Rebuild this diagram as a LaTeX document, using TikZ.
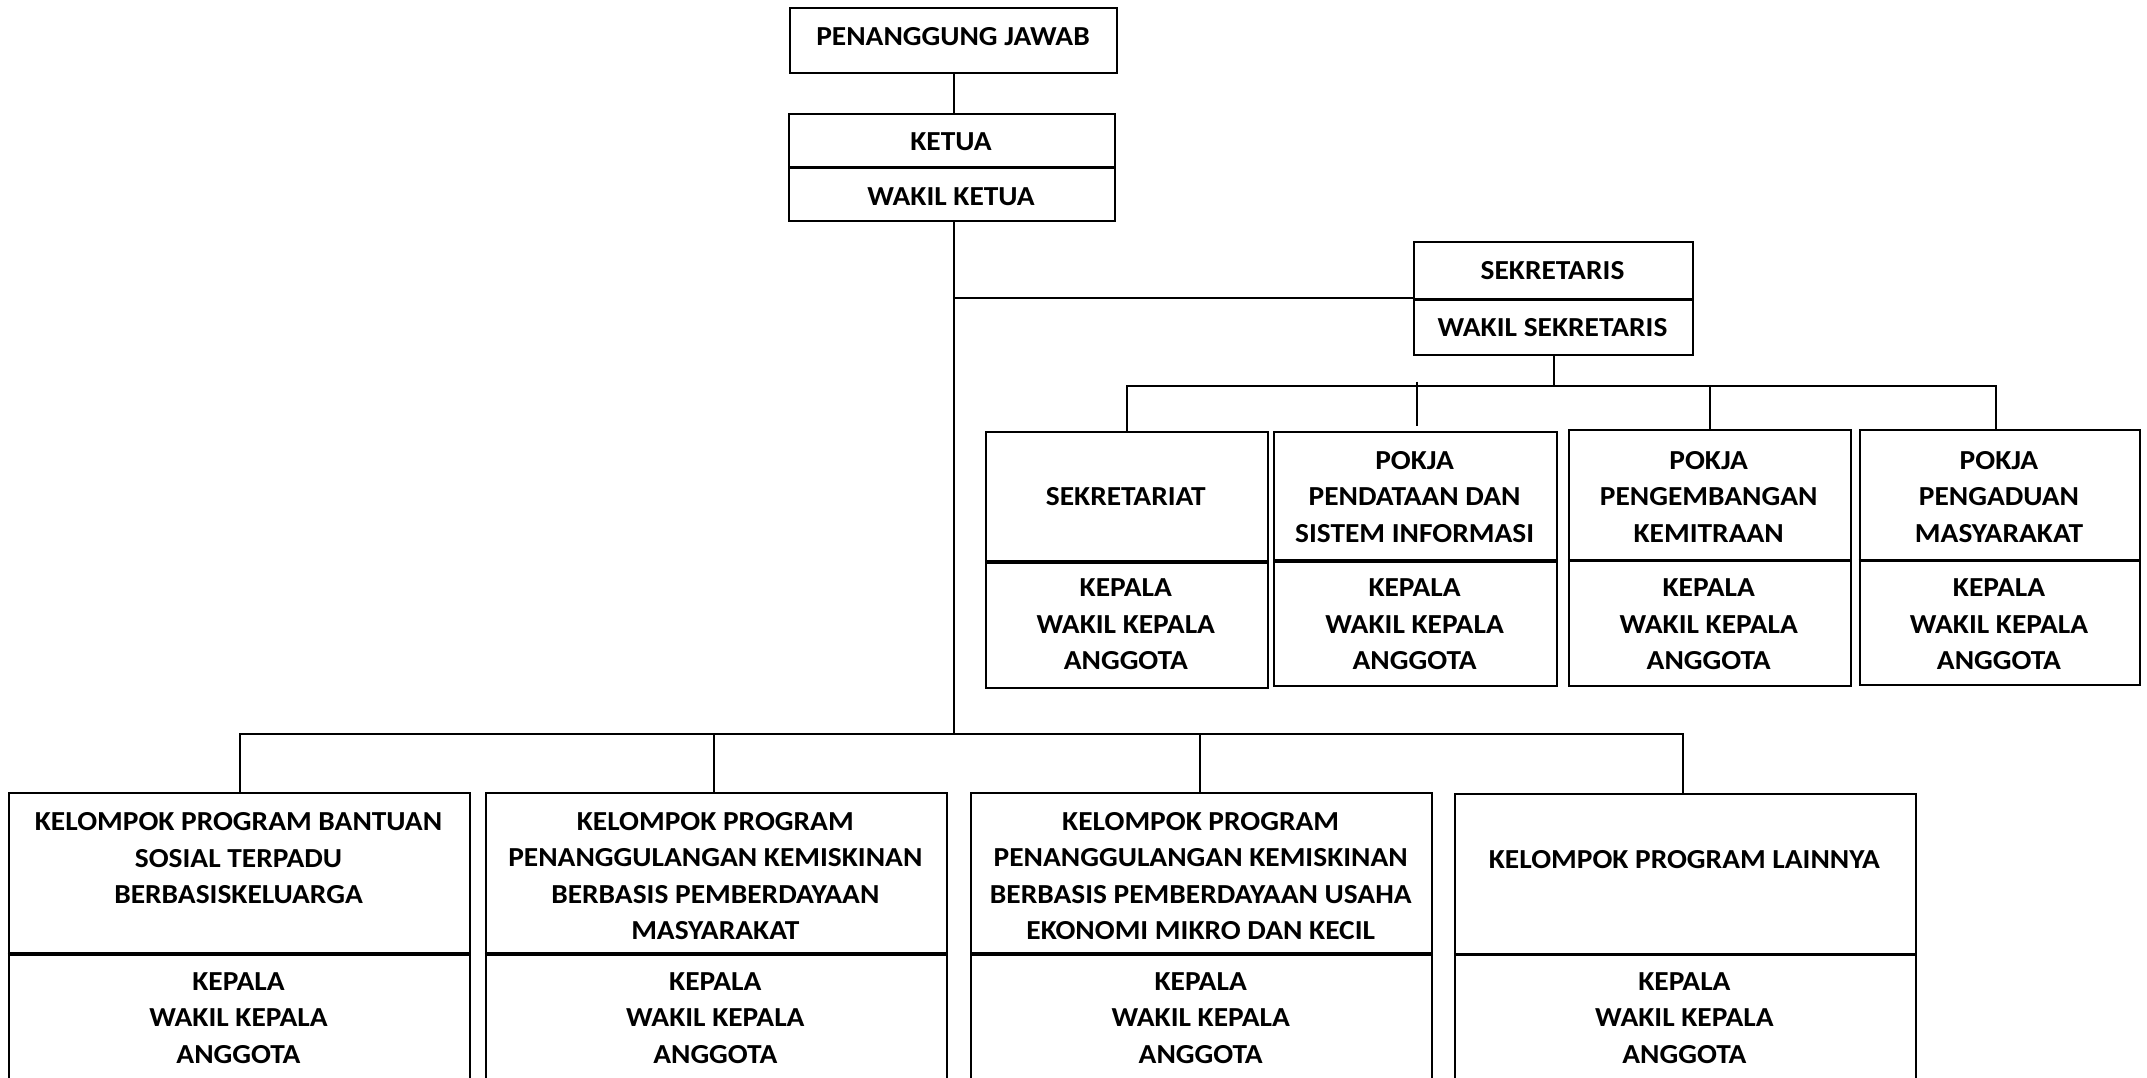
\documentclass[tikz,border=0pt]{standalone}
\usepackage{fontspec}
\setmainfont{Carlito}[FakeStretch=1.07]
\begin{document}
\begin{tikzpicture}[x=1pt,y=-1pt,
  part/.style={draw, line width=2pt, inner sep=0pt, anchor=north west},
  divider/.style={line width=3pt},
  conn/.style={line width=2pt},
  label/.style={inner sep=0pt, align=center, font=\fontsize{27.5}{36.6}\selectfont\bfseries}]
\useasboundingbox (0,0) rectangle (2147,1078);
\clip (0,0) rectangle (2147,1078);

% top chain
\node[part, minimum width=327pt, minimum height=64.7pt] (pj) at (789,7) {};
\node[part, minimum width=326pt, minimum height=53pt] (kt) at (788,112.7) {};
\node[part, minimum width=326pt, minimum height=54.3pt] (kw) at (788,165.7) {};
\node[part, minimum width=279pt, minimum height=57pt] (sk) at (1413,240.7) {};
\node[part, minimum width=279pt, minimum height=56.6pt] (sw) at (1413,297.7) {};
\draw[divider] (kt.south west) -- (kt.south east);
\draw[divider] (sk.south west) -- (sk.south east);

\node[label] (tpj) at (953,37) {PENANGGUNG JAWAB};
\node[label] (tkt) at (951,141.7) {KETUA};
\node[label] (tkw) at (951,196.7) {WAKIL KETUA};
\node[label] (tsk) at (1552.5,270.7) {SEKRETARIS};
\node[label] (tsw) at (1552.5,327.3) {WAKIL SEKRETARIS};

% secretariat units
\node[part, minimum width=281.6pt, minimum height=129.3pt] (s1t) at (985,430.7) {};
\node[part, minimum width=281.6pt, minimum height=127.3pt] (s1b) at (985,560) {};
\node[part, minimum width=282.4pt, minimum height=128.3pt] (s2t) at (1273.4,431) {};
\node[part, minimum width=282.4pt, minimum height=125.7pt] (s2b) at (1273.4,559.3) {};
\node[part, minimum width=281.6pt, minimum height=129.7pt] (s3t) at (1567.9,429) {};
\node[part, minimum width=281.6pt, minimum height=126.3pt] (s3b) at (1567.9,558.7) {};
\node[part, minimum width=280.8pt, minimum height=129.4pt] (s4t) at (1858.6,429.3) {};
\node[part, minimum width=280.8pt, minimum height=125.3pt] (s4b) at (1858.6,558.7) {};
\foreach \n in {s1t,s2t,s3t,s4t}{\draw[divider] (\n.south west) -- (\n.south east);}

\node[label] (ts1t) at (1125.8,496.7) {SEKRETARIAT};
\node[label] (ts2t) at (1414.6,496.7) {POKJA\\PENDATAAN DAN\\SISTEM INFORMASI};
\node[label] (ts3t) at (1708.7,496.7) {POKJA\\PENGEMBANGAN\\KEMITRAAN};
\node[label] (ts4t) at (1999,496.7) {POKJA\\PENGADUAN\\MASYARAKAT};
\node[label] (ts1b) at (1125.8,624.2) {KEPALA\\WAKIL KEPALA\\ANGGOTA};
\node[label] (ts2b) at (1414.6,624.2) {KEPALA\\WAKIL KEPALA\\ANGGOTA};
\node[label] (ts3b) at (1708.7,624.2) {KEPALA\\WAKIL KEPALA\\ANGGOTA};
\node[label] (ts4b) at (1999,624.2) {KEPALA\\WAKIL KEPALA\\ANGGOTA};

% programme groups
\node[part, minimum width=461.7pt, minimum height=159.7pt] (at) at (7.7,792.3) {};
\node[part, minimum width=461.7pt, minimum height=160pt] (ab) at (7.7,952) {};
\node[part, minimum width=461.1pt, minimum height=159.7pt] (bt) at (484.7,792.3) {};
\node[part, minimum width=461.1pt, minimum height=160pt] (bb) at (484.7,952) {};
\node[part, minimum width=460.5pt, minimum height=159.7pt] (ct) at (970.4,792.3) {};
\node[part, minimum width=460.5pt, minimum height=160pt] (cb) at (970.4,952) {};
\node[part, minimum width=461.1pt, minimum height=160.2pt] (dt) at (1453.8,792.5) {};
\node[part, minimum width=461.1pt, minimum height=160pt] (db) at (1453.8,952.7) {};
\foreach \n in {at,bt,ct,dt}{\draw[divider] (\n.south west) -- (\n.south east);}

\node[label] (tat) at (238.5,858.3) {KELOMPOK PROGRAM BANTUAN\\SOSIAL TERPADU\\BERBASISKELUARGA};
\node[label] (tbt) at (715.3,876) {KELOMPOK PROGRAM\\PENANGGULANGAN KEMISKINAN\\BERBASIS PEMBERDAYAAN\\MASYARAKAT};
\node[label] (tct) at (1200.7,876) {KELOMPOK PROGRAM\\PENANGGULANGAN KEMISKINAN\\BERBASIS PEMBERDAYAAN USAHA\\EKONOMI MIKRO DAN KECIL};
\node[label] (tdt) at (1684.4,860) {KELOMPOK PROGRAM LAINNYA};
\node[label] (tab) at (238.5,1017.8) {KEPALA\\WAKIL KEPALA\\ANGGOTA};
\node[label] (tbb) at (715.3,1017.8) {KEPALA\\WAKIL KEPALA\\ANGGOTA};
\node[label] (tcb) at (1200.7,1017.8) {KEPALA\\WAKIL KEPALA\\ANGGOTA};
\node[label] (tdb) at (1684.4,1017.8) {KEPALA\\WAKIL KEPALA\\ANGGOTA};

% connectors
\coordinate (spine) at (953.5,0);
\coordinate (busS) at (0,386);
\coordinate (busB) at (0,734);
\coordinate (stubtop) at (1416.5,381.7);
\draw[conn] (spine |- pj.south) -- (spine |- kt.north);
\draw[conn] (spine |- kw.south) -- (spine |- busB);
\draw[conn] (spine |- sw.north) -- (sw.north west);
% secretary bus
\draw[conn] (1553.5,0 |- sw.south) -- (1553.5,0 |- busS);
\draw[conn] (1126.5,0 |- s1t.north) -- (1126.5,0 |- busS) -- (1995.6,0 |- busS) -- (1995.6,0 |- s4t.north);
\draw[conn] (1709.5,0 |- busS) -- (1709.5,0 |- s3t.north);
\draw[conn] (stubtop) -- (1416.5,426);
% programme bus
\draw[conn] (239.8,0 |- at.north) -- (239.8,0 |- busB) -- (1683.4,0 |- busB) -- (1683.4,0 |- dt.north);
\draw[conn] (714.3,0 |- busB) -- (714.3,0 |- bt.north);
\draw[conn] (1200,0 |- busB) -- (1200,0 |- ct.north);
\end{tikzpicture}
\end{document}
